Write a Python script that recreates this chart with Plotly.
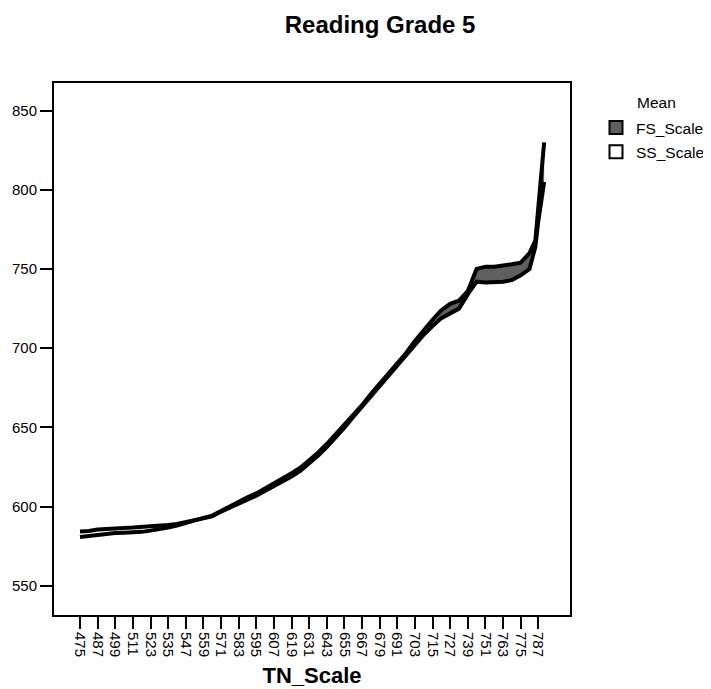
import numpy as np
import plotly.graph_objects as go

# TN_Scale categories (x) and mean FS_Scale / SS_Scale values
tn_scale = [475, 481, 487, 493, 499, 505, 511, 517, 523, 529, 535, 541, 547, 553,
            559, 565, 571, 577, 583, 589, 595, 601, 607, 613, 619, 625, 631, 637,
            643, 649, 655, 661, 667, 673, 679, 685, 691, 697, 703, 709, 715, 721,
            727, 733, 739, 745, 751, 757, 763, 769, 775, 781, 785, 787, 789, 791]

fs_scale = [580.8, 581.5, 582.5, 583.0, 583.3, 583.5, 583.7, 584.0, 584.8, 585.5,
            586.8, 588.0, 589.8, 591.5, 592.8, 594.3, 597.3, 600.5, 603.3, 605.8,
            608.3, 611.3, 614.3, 617.5, 621.0, 624.5, 629.0, 634.0, 639.5, 645.5,
            651.3, 657.5, 664.0, 671.0, 677.5, 684.0, 690.5, 697.0, 704.5, 711.5,
            718.0, 724.0, 728.0, 730.0, 736.0, 750.0, 751.5, 751.5, 752.0, 753.0,
            754.0, 760.0, 768.0, 790.0, 812.0, 830.0]

ss_scale = [584.3, 584.5, 585.5, 586.0, 586.3, 586.5, 586.7, 587.0, 587.3, 587.5,
            588.3, 589.0, 590.3, 591.5, 592.3, 593.8, 596.8, 599.5, 601.8, 604.3,
            606.8, 609.8, 612.8, 615.5, 619.0, 622.5, 627.0, 632.0, 637.5, 643.5,
            649.8, 656.5, 663.0, 670.0, 676.5, 683.0, 689.5, 696.0, 702.5, 708.5,
            714.0, 719.0, 722.0, 725.0, 734.0, 742.0, 741.5, 741.5, 742.0, 743.0,
            746.0, 750.0, 764.0, 780.0, 795.0, 805.0]

x_ticks = list(range(475, 788, 12))
y_ticks = [550, 600, 650, 700, 750, 800, 850]

fs = np.array(fs_scale)
ss = np.array(ss_scale)
upper = np.maximum(fs, ss)

FONT = "Liberation Sans, Arial, sans-serif"
GRAY = "#5f5f5f"

fig = go.Figure()

# gray fill where FS_Scale is above SS_Scale
fig.add_trace(go.Scatter(x=tn_scale, y=ss, mode="lines", line=dict(width=0, color=GRAY),
                         showlegend=False, hoverinfo="skip"))
fig.add_trace(go.Scatter(x=tn_scale, y=upper, mode="lines", line=dict(width=0, color=GRAY),
                         fill="tonexty", fillcolor=GRAY, showlegend=False, hoverinfo="skip"))

# outlines
fig.add_trace(go.Scatter(x=tn_scale, y=ss, mode="lines", line=dict(width=4, color="black"),
                         showlegend=False, name="SS_Scale"))
fig.add_trace(go.Scatter(x=tn_scale, y=fs, mode="lines", line=dict(width=4, color="black"),
                         showlegend=False, name="FS_Scale"))

# legend entries
fig.add_trace(go.Scatter(x=[None], y=[None], mode="markers", name="FS_Scale", legendgroup="a",
                         marker=dict(symbol="square", size=13, color=GRAY,
                                     line=dict(color="black", width=2))))
fig.add_trace(go.Scatter(x=[None], y=[None], mode="markers", name="SS_Scale", legendgroup="b",
                         marker=dict(symbol="square", size=13, color="white",
                                     line=dict(color="black", width=2))))

fig.update_layout(
    width=711, height=689,
    margin=dict(l=46, r=149, t=75, b=82, autoexpand=False),
    paper_bgcolor="white", plot_bgcolor="white",
    font=dict(family=FONT, color="black", size=15),
    title=dict(text="<b>Reading Grade 5</b>", x=0.632, xref="paper", xanchor="center",
               y=0.976, yanchor="middle", font=dict(size=24, family=FONT, color="black")),
    legend=dict(x=0.827, y=0.8505, xref="container", yref="container",
                xanchor="left", yanchor="top", tracegroupgap=1,
                font=dict(size=15.5, family=FONT, color="black"), bgcolor="rgba(0,0,0,0)"),
    annotations=[dict(text="Mean", xref="paper", yref="paper", x=1.126, y=0.964,
                      xanchor="left", yanchor="middle", showarrow=False,
                      font=dict(size=15.5, family=FONT, color="black"))],
)

fig.update_xaxes(
    range=[457.3, 808.6], tickmode="array", tickvals=x_ticks,
    ticktext=[str(v) for v in x_ticks], tickangle=90, automargin=False,
    ticks="outside", ticklen=12, tickwidth=2, tickcolor="black",
    showline=True, linewidth=2, linecolor="black", mirror=True,
    showgrid=False, zeroline=False,
    tickfont=dict(size=15, family=FONT, color="black"),
    title=dict(text="<b>TN_Scale</b>", font=dict(size=22, family=FONT, color="black"), standoff=12),
)
fig.update_yaxes(
    range=[531.5, 867.5], tickmode="array", tickvals=y_ticks, automargin=False,
    ticks="outside", ticklen=12, tickwidth=2, tickcolor="black",
    showline=True, linewidth=2, linecolor="black", mirror=True,
    showgrid=False, zeroline=False,
    tickfont=dict(size=15, family=FONT, color="black"),
)

fig.write_html("out.html")
